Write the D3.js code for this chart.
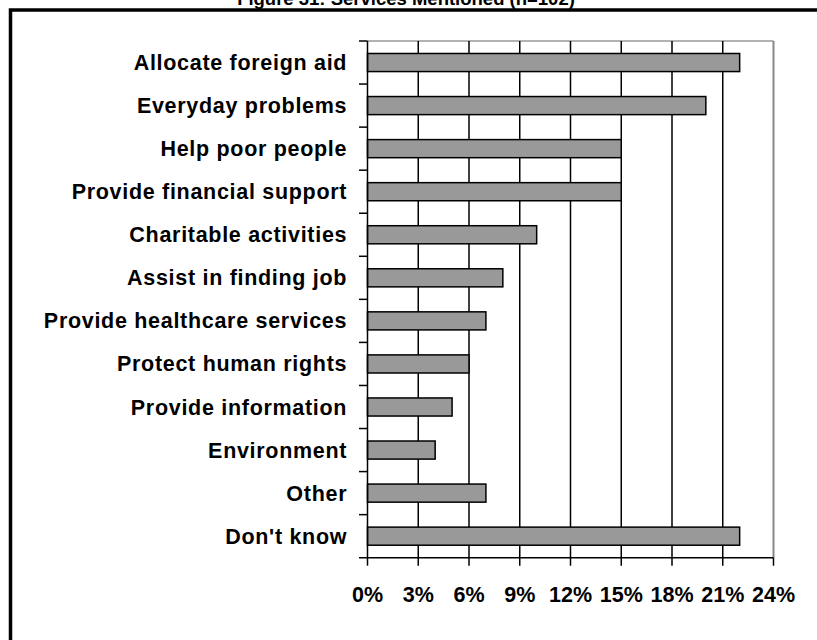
<!DOCTYPE html>
<html>
<head>
<meta charset="utf-8">
<script src="https://cdn.jsdelivr.net/npm/d3@7/dist/d3.min.js"></script>
<style>
html,body{margin:0;padding:0;background:#fff;}
svg{display:block;}
text{font-family:"Liberation Sans",Arial,sans-serif;font-weight:bold;fill:#000;}
</style>
</head>
<body>
<svg id="chart" width="817" height="640"></svg>
<script>
const titleText = "Figure 31: Services Mentioned (n=102)";
const categories = ["Allocate foreign aid","Everyday problems","Help poor people","Provide financial support","Charitable activities","Assist in finding job","Provide healthcare services","Protect human rights","Provide information","Environment","Other","Don't know"];
const values = [22,20,15,15,10,8,7,6,5,4,7,22];
const tickValues = [0,3,6,9,12,15,18,21,24];

const svg = d3.select("#chart");
const pLeft = 367.5, pRight = 773.5, pTop = 41, pBottom = 557.7;

// outer frame
svg.append("rect").attr("x",10.5).attr("y",10).attr("width",900).attr("height",700)
  .attr("fill","none").attr("stroke","#000").attr("stroke-width",3.5);

svg.append("text").attr("x",406).attr("y",5).attr("text-anchor","middle")
  .style("font-size","18.5px").text(titleText);

const x = d3.scaleLinear().domain([0,24]).range([pLeft,pRight]);
const y = d3.scaleBand().domain(categories).range([pTop,pBottom]).paddingInner(0.58).paddingOuter(0.29);
const yb = d3.scaleBand().domain(categories).range([pTop,pBottom]);

// top border (grey)
svg.append("line").attr("x1",pLeft).attr("x2",pRight).attr("y1",pTop).attr("y2",pTop)
  .attr("stroke","#999").attr("stroke-width",1.5);
// right border (grey)
svg.append("line").attr("x1",pRight).attr("x2",pRight).attr("y1",pTop).attr("y2",pBottom)
  .attr("stroke","#888").attr("stroke-width",2);

// gridlines
svg.append("g").selectAll("line").data(tickValues.filter(d=>d>0 && d<24)).join("line")
  .attr("x1",d=>x(d)).attr("x2",d=>x(d)).attr("y1",pTop).attr("y2",pBottom)
  .attr("stroke","#000").attr("stroke-width",1.5);

// bars
svg.append("g").selectAll("rect").data(categories).join("rect")
  .attr("x",x(0)).attr("y",d=>y(d)).attr("height",y.bandwidth())
  .attr("width",(d,i)=>x(values[i])-x(0))
  .attr("fill","#999999").attr("stroke","#000").attr("stroke-width",1.5);

// y axis
const yAxis = svg.append("g").attr("transform",`translate(${pLeft},0)`);
yAxis.append("line").attr("x1",0).attr("x2",0).attr("y1",pTop).attr("y2",pBottom).attr("stroke","#000").attr("stroke-width",1.5);
yAxis.selectAll("line.tk").data(categories).join("line").attr("class","tk")
  .attr("x1",-8.5).attr("x2",0).attr("y1",d=>yb(d)).attr("y2",d=>yb(d))
  .attr("stroke","#000").attr("stroke-width",1.5);
yAxis.selectAll("text").data(categories).join("text")
  .attr("x",-20.3).attr("y",d=>yb(d)+yb.bandwidth()/2).attr("dy","0.35em")
  .attr("text-anchor","end").style("font-size","21.5px").style("letter-spacing","0.7px").text(d=>d);

// x axis
const xAxis = svg.append("g").attr("transform",`translate(0,${pBottom})`);
xAxis.append("line").attr("x1",pLeft-8.5).attr("x2",pRight).attr("y1",0).attr("y2",0).attr("stroke","#000").attr("stroke-width",1.5);
xAxis.selectAll("line.tk").data(tickValues).join("line").attr("class","tk")
  .attr("x1",d=>x(d)).attr("x2",d=>x(d)).attr("y1",0).attr("y2",8)
  .attr("stroke","#000").attr("stroke-width",1.5);
xAxis.selectAll("text").data(tickValues).join("text")
  .attr("x",d=>x(d)).attr("y",44.3).attr("text-anchor","middle")
  .style("font-size","21.5px").text(d=>d+"%");
</script>
</body>
</html>
